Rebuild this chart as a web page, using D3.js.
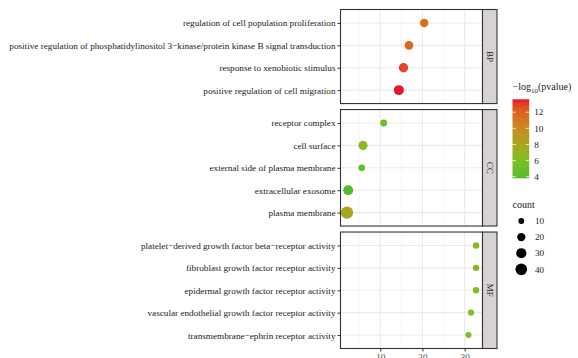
<!DOCTYPE html>
<html>
<head>
<meta charset="utf-8">
<script src="https://cdn.jsdelivr.net/npm/d3@7"></script>
<style>
  body { margin: 0; background: #fff; }
  svg { display: block; font-family: "Liberation Serif", "DejaVu Serif", serif; }
</style>
</head>
<body>
<svg id="chart" width="578" height="358"></svg>
<script>
// facet groups, top to bottom
var groups = ["BP", "CC", "MF"];

var bpTerms = [
  "regulation of cell population proliferation",
  "positive regulation of phosphatidylinositol 3\u2212kinase/protein kinase B signal transduction",
  "response to xenobiotic stimulus",
  "positive regulation of cell migration"
];
var bpRatio = [20.4, 16.8, 15.5, 14.4];
var bpCount = [21, 22, 26, 29];
var bpLogP = [11.4, 11.8, 12.8, 13.6];

var ccTerms = [
  "receptor complex",
  "cell surface",
  "external side of plasma membrane",
  "extracellular exosome",
  "plasma membrane"
];
var ccRatio = [10.8, 5.9, 5.6, 2.4, 2.1];
var ccCount = [14, 25, 13, 29, 45];
var ccLogP = [5.0, 6.4, 4.4, 3.8, 8.0];

var mfTerms = [
  "platelet\u2212derived growth factor beta\u2212receptor activity",
  "fibroblast growth factor receptor activity",
  "epidermal growth factor receptor activity",
  "vascular endothelial growth factor receptor activity",
  "transmembrane\u2212ephrin receptor activity"
];
var mfRatio = [32.7, 32.7, 32.7, 31.5, 30.9];
var mfCount = [12, 12, 12, 11, 11];
var mfLogP = [6.6, 6.6, 6.5, 6.3, 6.1];

var xTicks = [10, 20, 30];
var colorTicks = [4, 6, 8, 10, 12];
var sizeTicks = [10, 20, 30, 40];

var panels = [
  { name: "BP", terms: bpTerms, ratio: bpRatio, count: bpCount, logp: bpLogP },
  { name: "CC", terms: ccTerms, ratio: ccRatio, count: ccCount, logp: ccLogP },
  { name: "MF", terms: mfTerms, ratio: mfRatio, count: mfCount, logp: mfLogP }
];

var svg = d3.select("#chart");

var panelLeft = 340.5, panelRight = 482.5, stripW = 14.5;
var plotTop = 9.5, plotBottom = 348.5, gap = 6;

// x scale with ggplot-like 5% expansion
var allRatio = bpRatio.concat(ccRatio, mfRatio);
var ext = d3.extent(allRatio);
var pad = (ext[1] - ext[0]) * 0.05;
var x = d3.scaleLinear()
    .domain([ext[0] - pad, ext[1] + pad])
    .range([panelLeft, panelRight]);

// green -> olive -> orange -> red
var color = d3.scaleLinear()
    .domain([3.8, 6, 8, 10, 12, 13.6])
    .range(["#52bd2b", "#7cc025", "#a8a61d", "#c98b1f", "#e0621f", "#e8162c"])
    .interpolate(d3.interpolateLab);

var size = d3.scaleSqrt()
    .domain([0, 45])
    .range([0, 6.2]);

// vertical space proportional to number of rows (space = "free")
var units = panels.map(function(p) { return p.terms.length - 1 + 1.2; });
var step = (plotBottom - plotTop - gap * (panels.length - 1)) / d3.sum(units);

var y0 = plotTop;
panels.forEach(function(p, i) {
  var h = units[i] * step;
  var y = d3.scalePoint()
      .domain(p.terms)
      .range([y0, y0 + h])
      .padding(0.6);

  var g = svg.append("g");

  g.append("rect")
      .attr("x", panelLeft).attr("y", y0)
      .attr("width", panelRight - panelLeft).attr("height", h)
      .attr("fill", "#fff");

  // minor grid
  g.selectAll(".minor")
      .data([5, 15, 25])
    .enter().append("line")
      .attr("x1", function(d) { return x(d); })
      .attr("x2", function(d) { return x(d); })
      .attr("y1", y0).attr("y2", y0 + h)
      .attr("stroke", "#f2f2f2").attr("stroke-width", 0.6);

  // major grid
  g.selectAll(".vmajor")
      .data(xTicks)
    .enter().append("line")
      .attr("x1", function(d) { return x(d); })
      .attr("x2", function(d) { return x(d); })
      .attr("y1", y0).attr("y2", y0 + h)
      .attr("stroke", "#ebebeb").attr("stroke-width", 1.1);

  g.selectAll(".hmajor")
      .data(p.terms)
    .enter().append("line")
      .attr("x1", panelLeft).attr("x2", panelRight)
      .attr("y1", function(d) { return y(d); })
      .attr("y2", function(d) { return y(d); })
      .attr("stroke", "#ebebeb").attr("stroke-width", 1.1);

  var rows = p.terms.map(function(t, j) {
    return { term: t, ratio: p.ratio[j], count: p.count[j], logp: p.logp[j] };
  });

  g.selectAll("circle")
      .data(rows)
    .enter().append("circle")
      .attr("cx", function(d) { return x(d.ratio); })
      .attr("cy", function(d) { return y(d.term); })
      .attr("r", function(d) { return size(d.count); })
      .attr("fill", function(d) { return color(d.logp); });

  g.append("rect")
      .attr("x", panelLeft).attr("y", y0)
      .attr("width", panelRight - panelLeft).attr("height", h)
      .attr("fill", "none").attr("stroke", "#333").attr("stroke-width", 1.1);

  // y axis
  var yAxis = g.append("g")
      .attr("transform", "translate(" + panelLeft + ",0)")
      .call(d3.axisLeft(y).tickSize(3).tickPadding(2));
  yAxis.select(".domain").remove();
  yAxis.selectAll(".tick line").attr("stroke", "#333");
  yAxis.selectAll(".tick text")
      .attr("fill", "#1a1a1a")
      .style("font-family", "Liberation Serif")
      .style("font-size", "9.2px");

  // strip
  g.append("rect")
      .attr("x", panelRight).attr("y", y0)
      .attr("width", stripW).attr("height", h)
      .attr("fill", "#d7d3d3").attr("stroke", "#333").attr("stroke-width", 1.1);
  g.append("text")
      .attr("transform", "translate(" + (panelRight + stripW / 2) + "," + (y0 + h / 2) + ") rotate(90)")
      .attr("text-anchor", "middle")
      .attr("dy", "0.35em")
      .attr("fill", "#1a1a1a")
      .style("font-size", "9px")
      .text(p.name);

  if (i === panels.length - 1) {
    var xAxis = g.append("g")
        .attr("transform", "translate(0," + (y0 + h) + ")")
        .call(d3.axisBottom(x).tickValues(xTicks).tickSize(3).tickPadding(2));
    xAxis.select(".domain").remove();
    xAxis.selectAll(".tick line").attr("stroke", "#333");
    xAxis.selectAll(".tick text")
        .attr("fill", "#4d4d4d")
        .style("font-family", "Liberation Serif")
        .style("font-size", "9.2px");
  }

  y0 += h + gap;
});

// colour legend
var lx = 512.5;
var title = svg.append("text")
    .attr("x", lx).attr("y", 90)
    .attr("fill", "#1a1a1a")
    .style("font-size", "10px");
title.append("tspan").text("\u2212log");
title.append("tspan").attr("dy", 2.5).style("font-size", "7px").text("10");
title.append("tspan").attr("dy", -2.5).text("(pvalue)");

var barTop = 99.3, barBottom = 178.3, barW = 16.7;
var cbar = d3.scaleLinear().domain([3.8, 13.6]).range([barBottom, barTop]);

var grad = svg.append("defs").append("linearGradient")
    .attr("id", "grad")
    .attr("x1", 0).attr("y1", 1).attr("x2", 0).attr("y2", 0);
d3.range(0, 1.0001, 0.05).forEach(function(t) {
  grad.append("stop")
      .attr("offset", t)
      .attr("stop-color", color(3.8 + t * (13.6 - 3.8)));
});

svg.append("rect")
    .attr("x", lx).attr("y", barTop)
    .attr("width", barW).attr("height", barBottom - barTop)
    .attr("fill", "url(#grad)");

colorTicks.forEach(function(v) {
  var yy = cbar(v);
  svg.append("line").attr("x1", lx).attr("x2", lx + 3.3).attr("y1", yy).attr("y2", yy)
      .attr("stroke", "#fff").attr("stroke-width", 0.8);
  svg.append("line").attr("x1", lx + barW - 3.3).attr("x2", lx + barW).attr("y1", yy).attr("y2", yy)
      .attr("stroke", "#fff").attr("stroke-width", 0.8);
  svg.append("text")
      .attr("x", lx + barW + 5).attr("y", yy).attr("dy", "0.35em")
      .attr("fill", "#1a1a1a")
      .style("font-size", "9.2px")
      .text(v);
});

// size legend
svg.append("text")
    .attr("x", lx).attr("y", 208)
    .attr("fill", "#1a1a1a")
    .style("font-size", "10px")
    .text("count");

var sizeY = d3.scalePoint().domain(sizeTicks).range([221, 269.3]);
sizeTicks.forEach(function(v) {
  svg.append("circle")
      .attr("cx", 521.3).attr("cy", sizeY(v))
      .attr("r", size(v))
      .attr("fill", "#000");
  svg.append("text")
      .attr("x", 535).attr("y", sizeY(v)).attr("dy", "0.35em")
      .attr("fill", "#1a1a1a")
      .style("font-size", "9.2px")
      .text(v);
});
</script>
</body>
</html>
